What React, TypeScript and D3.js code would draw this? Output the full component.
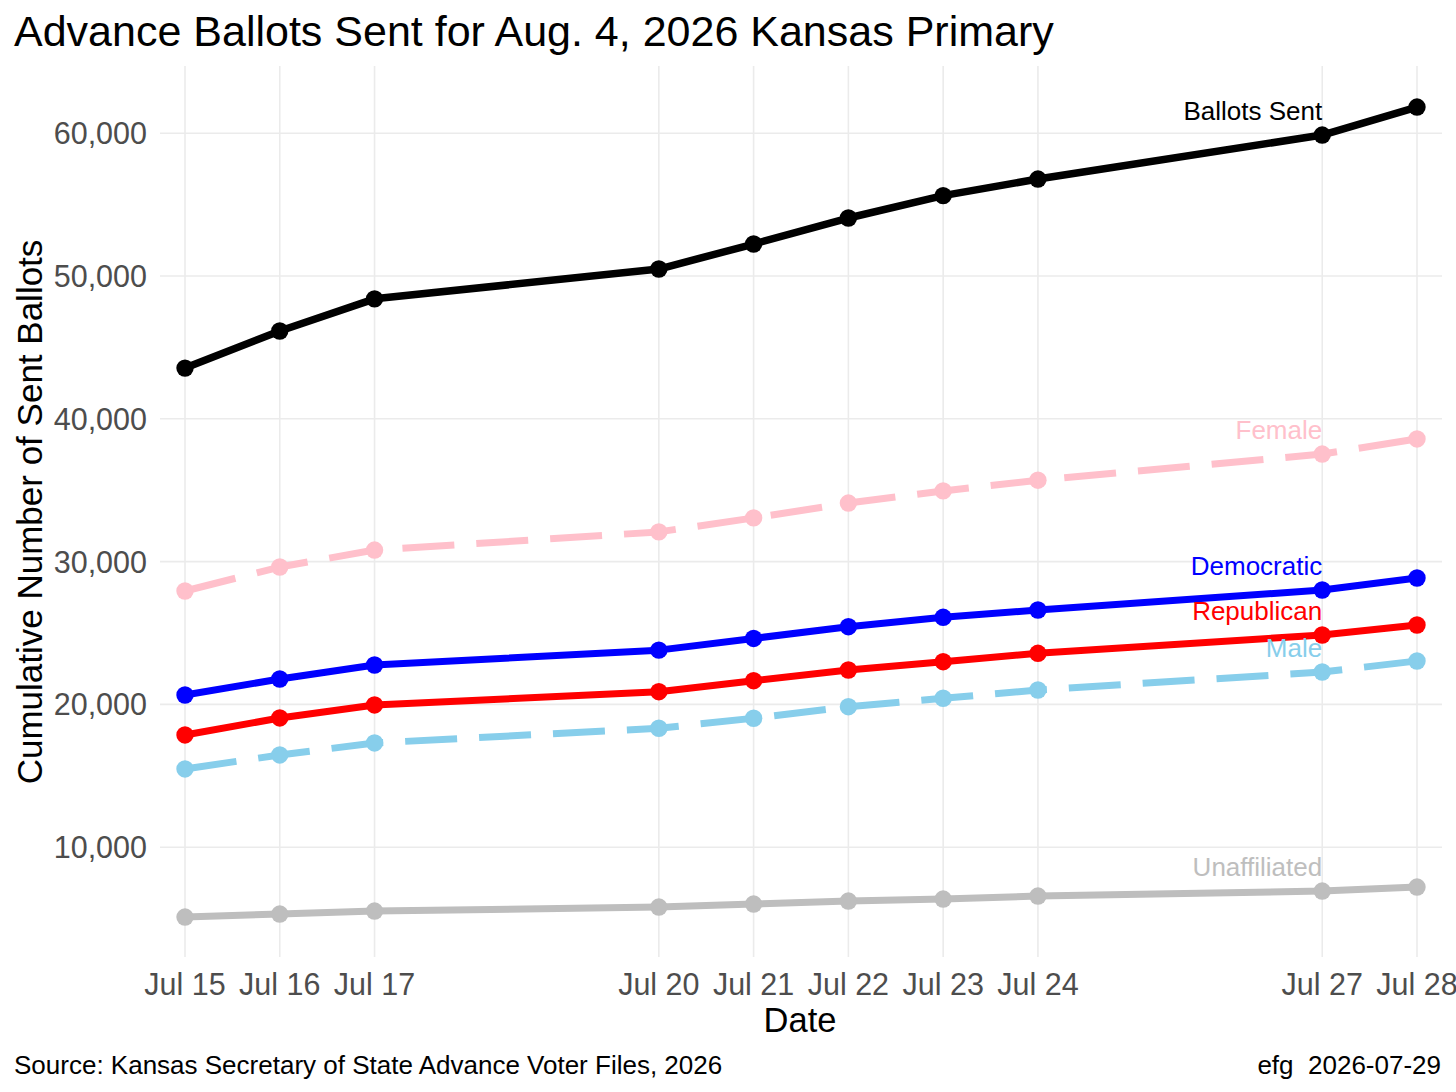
import React, { useMemo } from "react";
import * as d3 from "d3";

// dates of each report (July 2026)
const days: string[] = [
  "2026-07-15",
  "2026-07-16",
  "2026-07-17",
  "2026-07-20",
  "2026-07-21",
  "2026-07-22",
  "2026-07-23",
  "2026-07-24",
  "2026-07-27",
  "2026-07-28",
];

const ballotsSent = [43550, 46150, 48400, 50490, 52240, 54060, 55630, 56790, 59870, 61830];
const female = [27940, 29620, 30810, 32080, 33060, 34100, 34950, 35700, 37530, 38590];
const democratic = [20660, 21780, 22760, 23800, 24620, 25440, 26100, 26610, 28010, 28850];
const republican = [17860, 19050, 19960, 20890, 21660, 22410, 22990, 23580, 24860, 25560];
const male = [15480, 16460, 17300, 18330, 19030, 19840, 20430, 21010, 22270, 23040];
const unaffiliated = [5110, 5320, 5530, 5810, 6020, 6230, 6370, 6580, 6930, 7210];

const yTicks = [10000, 20000, 30000, 40000, 50000, 60000];

interface Series {
  name: string;
  values: number[];
  color: string;
  dashed: boolean;
  width: number;
}

const series: Series[] = [
  { name: "Ballots Sent", values: ballotsSent, color: "#000000", dashed: false, width: 7.5 },
  { name: "Female", values: female, color: "#FFC0CB", dashed: true, width: 7 },
  { name: "Democratic", values: democratic, color: "#0000FF", dashed: false, width: 7 },
  { name: "Republican", values: republican, color: "#FF0000", dashed: false, width: 7 },
  { name: "Male", values: male, color: "#87CEEB", dashed: true, width: 7 },
  { name: "Unaffiliated", values: unaffiliated, color: "#BEBEBE", dashed: false, width: 7 },
];

const W = 1456;
const H = 1092;
const FONT = "'Liberation Sans', Arial, Helvetica, sans-serif";

// panel edges
const panel = { left: 160, right: 1442, top: 66, bottom: 957 };

export default function App() {
  const parse = d3.timeParse("%Y-%m-%d");
  const dates = useMemo(() => days.map((d) => parse(d) as Date), []);

  const { x, y } = useMemo(() => {
    const x = d3
      .scaleTime()
      .domain([dates[0], dates[dates.length - 1]])
      .range([185, 1417]);
    const y = d3.scaleLinear().domain([0, 60000]).range([990, 133.2]);
    return { x, y };
  }, [dates]);

  const fmtDate = d3.timeFormat("%b %d");
  const fmtNum = d3.format(",");

  const line = d3
    .line<number>()
    .x((_, i) => x(dates[i]))
    .y((v) => y(v));

  const labelIdx = dates.length - 2; // labels sit over Jul 27

  return (
    <div style={{ position: "absolute", left: 0, top: 0 }}>
      <svg width={W} height={H} style={{ display: "block", background: "#fff" }} fontFamily={FONT}>
        {/* grid */}
        <g stroke="#EBEBEB" strokeWidth={1.6}>
          {yTicks.map((t) => (
            <line key={t} x1={panel.left} x2={panel.right} y1={y(t)} y2={y(t)} />
          ))}
          {dates.map((d) => (
            <line key={+d} x1={x(d)} x2={x(d)} y1={panel.top} y2={panel.bottom} />
          ))}
        </g>

        {/* y tick labels */}
        <g fill="#4D4D4D" fontSize={30.5} textAnchor="end">
          {yTicks.map((t) => (
            <text key={t} x={147} y={y(t)} dy="0.36em">
              {fmtNum(t)}
            </text>
          ))}
        </g>

        {/* x tick labels */}
        <g fill="#4D4D4D" fontSize={30.5} textAnchor="middle">
          {dates.map((d) => (
            <text key={+d} x={x(d)} y={995}>
              {fmtDate(d)}
            </text>
          ))}
        </g>

        {/* lines and points */}
        {series.map((s) => (
          <g key={s.name}>
            <path
              d={line(s.values) || ""}
              fill="none"
              stroke={s.color}
              strokeWidth={s.width}
              strokeDasharray={s.dashed ? "52 22" : undefined}
              strokeLinejoin="round"
            />
            {s.values.map((v, i) => (
              <circle key={i} cx={x(dates[i])} cy={y(v)} r={8.7} fill={s.color} />
            ))}
            <text
              x={x(dates[labelIdx])}
              y={y(s.values[labelIdx]) - 15}
              textAnchor="end"
              fontSize={26}
              fill={s.color}
            >
              {s.name}
            </text>
          </g>
        ))}

        {/* titles */}
        <text x={14} y={46} fontSize={43} fill="#000">
          Advance Ballots Sent for Aug. 4, 2026 Kansas Primary
        </text>
        <text x={800} y={1032} fontSize={34.5} textAnchor="middle" fill="#000">
          Date
        </text>
        <text
          transform={`translate(42, 512) rotate(-90)`}
          fontSize={35}
          textAnchor="middle"
          fill="#000"
        >
          Cumulative Number of Sent Ballots
        </text>
        <text x={14} y={1074} fontSize={26} fill="#000">
          Source: Kansas Secretary of State Advance Voter Files, 2026
        </text>
        <text x={1441} y={1074} fontSize={26} textAnchor="end" fill="#000" style={{ whiteSpace: "pre" }}>
          {"efg  2026-07-29"}
        </text>
      </svg>
    </div>
  );
}
